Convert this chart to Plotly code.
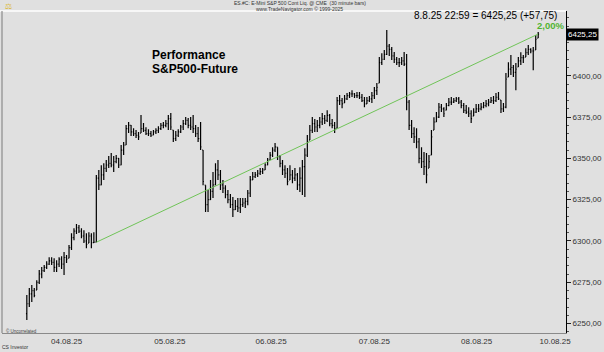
import plotly.graph_objects as go

# ---------------- data (30-minute bars, ES.#C) ----------------
high = [
    6267.3, 6271.5, 6273.3, 6271.5, 6276.3, 6282.4, 6284.2, 6285.4, 6287.8, 6290.2,
    6290.2, 6289.6, 6288.4, 6290.2, 6290.8, 6293.3, 6291.5, 6297.5, 6304.7, 6307.7,
    6310.2, 6309.6, 6307.7, 6306.5, 6304.7, 6305.3, 6304.7, 6305.3, 6339.9, 6342.9,
    6345.9, 6347.1, 6349.0, 6351.4, 6353.2, 6351.4, 6352.0, 6350.2, 6358.1, 6359.9,
    6370.2, 6372.0, 6370.2, 6368.3, 6367.1, 6365.9, 6376.2, 6371.4, 6368.9, 6367.7,
    6366.5, 6367.1, 6368.3, 6369.5, 6371.4, 6372.0, 6373.2, 6376.2, 6377.4, 6367.1,
    6366.5, 6367.7, 6370.2, 6373.2, 6375.0, 6374.4, 6375.0, 6376.2, 6370.2, 6369.0,
    6372.0, 6355.0, 6333.8, 6330.8, 6336.9, 6341.7, 6347.1, 6349.0, 6342.9, 6336.9,
    6333.8, 6330.8, 6328.4, 6326.6, 6324.8, 6326.0, 6326.0, 6326.0, 6326.0, 6330.8,
    6339.3, 6341.7, 6341.7, 6342.9, 6344.1, 6344.1, 6347.1, 6350.2, 6353.8, 6356.8,
    6359.3, 6356.8, 6352.0, 6349.0, 6345.9, 6344.1, 6345.9, 6342.9, 6344.1, 6341.1,
    6344.7, 6349.0, 6356.2, 6364.1, 6370.2, 6375.0, 6373.8, 6373.2, 6375.0, 6377.4,
    6376.2, 6379.2, 6376.8, 6373.8, 6372.0, 6387.1, 6388.3, 6386.5, 6388.3, 6389.5,
    6390.1, 6391.3, 6389.5, 6390.1, 6390.1, 6388.9, 6387.1, 6387.1, 6387.7, 6390.1,
    6393.2, 6395.6, 6411.3, 6413.7, 6415.6, 6427.7, 6419.2, 6417.4, 6414.4, 6411.3,
    6410.7, 6411.3, 6414.4, 6413.1, 6385.3, 6373.2, 6368.9, 6368.3, 6362.3, 6356.8,
    6353.8, 6353.2, 6352.0, 6367.1, 6374.9, 6378.0, 6383.5, 6382.9, 6381.0, 6383.5,
    6386.5, 6387.1, 6386.5, 6387.1, 6387.1, 6385.3, 6383.5, 6382.3, 6381.0, 6379.2,
    6380.4, 6382.9, 6382.9, 6383.5, 6384.1, 6385.3, 6385.9, 6387.1, 6387.7, 6389.5,
    6390.1, 6385.3, 6383.5, 6401.6, 6408.2, 6412.5, 6406.5, 6407.7, 6411.3, 6414.3,
    6412.5, 6416.7, 6418.6, 6416.7, 6417.4, 6424.6, 6426.5,
]
low = [
    6252.1, 6260.0, 6263.0, 6266.0, 6270.3, 6273.9, 6277.5, 6281.2, 6283.0, 6285.4,
    6285.4, 6281.2, 6281.2, 6284.2, 6283.0, 6279.4, 6286.6, 6289.6, 6294.5, 6300.5,
    6304.2, 6304.8, 6301.7, 6298.7, 6295.6, 6298.7, 6295.6, 6298.7, 6299.25, 6330.8,
    6333.8, 6336.9, 6341.7, 6344.1, 6344.7, 6341.7, 6347.1, 6344.1, 6345.9, 6352.0,
    6358.1, 6365.3, 6363.5, 6363.5, 6362.3, 6361.1, 6365.3, 6366.0, 6364.1, 6363.5,
    6362.9, 6364.1, 6364.7, 6365.3, 6367.1, 6368.3, 6368.9, 6367.1, 6367.1, 6359.9,
    6360.5, 6362.9, 6365.3, 6367.1, 6370.2, 6368.3, 6367.1, 6365.3, 6362.9, 6359.9,
    6355.0, 6333.8, 6317.5, 6317.5, 6324.8, 6326.0, 6333.8, 6336.9, 6330.8, 6329.0,
    6325.9, 6322.9, 6319.9, 6314.5, 6318.7, 6317.5, 6316.9, 6320.5, 6319.9, 6321.7,
    6326.6, 6336.9, 6338.1, 6338.7, 6339.9, 6340.5, 6342.9, 6345.9, 6349.0, 6350.8,
    6353.8, 6349.0, 6344.7, 6339.9, 6338.1, 6333.8, 6336.9, 6335.0, 6336.3, 6330.8,
    6329.6, 6327.8, 6326.6, 6350.8, 6361.1, 6365.3, 6365.9, 6365.9, 6368.3, 6370.2,
    6370.8, 6372.0, 6369.5, 6368.3, 6365.3, 6368.3, 6382.3, 6380.4, 6383.5, 6385.3,
    6386.5, 6387.1, 6386.5, 6386.5, 6385.9, 6384.1, 6381.0, 6382.9, 6384.1, 6383.5,
    6385.9, 6388.3, 6395.6, 6406.5, 6409.5, 6412.5, 6411.9, 6409.5, 6407.7, 6406.5,
    6405.3, 6406.5, 6405.9, 6379.2, 6367.1, 6362.3, 6359.3, 6356.2, 6347.1, 6344.1,
    6339.9, 6335.0, 6344.1, 6352.0, 6367.1, 6372.0, 6374.4, 6378.0, 6375.0, 6379.2,
    6381.6, 6382.3, 6383.5, 6384.1, 6382.9, 6380.4, 6377.4, 6376.8, 6375.0, 6371.4,
    6375.6, 6377.4, 6378.0, 6379.2, 6380.4, 6381.0, 6381.6, 6383.5, 6382.9, 6384.1,
    6385.3, 6377.4, 6378.0, 6380.4, 6399.2, 6400.4, 6399.2, 6391.3, 6405.3, 6406.5,
    6407.7, 6411.3, 6412.5, 6413.7, 6403.4, 6415.6, 6422.8,
]
close = [
    6262, 6268, 6270, 6267, 6275, 6280, 6282, 6284, 6286, 6288,
    6287, 6284, 6286, 6289, 6286, 6290, 6289, 6296, 6302, 6306,
    6308, 6306, 6303, 6300, 6298, 6303, 6299, 6299.25, 6338, 6334,
    6340, 6344, 6346, 6347, 6346, 6348, 6350, 6346, 6355, 6358,
    6368, 6370, 6366, 6365, 6364, 6363, 6368, 6367, 6365, 6365,
    6364, 6366, 6367, 6368, 6370, 6370, 6371, 6374, 6369, 6362,
    6364, 6366, 6369, 6371, 6373, 6370, 6369, 6368, 6365, 6362,
    6357, 6336, 6322, 6325, 6330, 6334, 6343, 6340, 6334, 6332,
    6328, 6325, 6322, 6319, 6321, 6320, 6322, 6323, 6324, 6329,
    6337, 6339, 6340, 6341, 6342, 6343, 6346, 6349, 6352, 6355,
    6357, 6351, 6347, 6343, 6341, 6336, 6340, 6338, 6340, 6334,
    6338, 6345, 6352, 6360, 6367, 6371, 6369, 6370, 6372, 6374,
    6373, 6376, 6371, 6370, 6368, 6385, 6385, 6383, 6386, 6388,
    6389, 6389, 6388, 6388, 6387, 6385, 6383, 6385, 6386, 6388,
    6391, 6393, 6408, 6410, 6413, 6418, 6416, 6412, 6410, 6408,
    6408, 6409, 6407, 6384, 6370, 6365, 6363, 6360, 6350, 6348,
    6345, 6340, 6348, 6363, 6372, 6375, 6381, 6380, 6377, 6382,
    6384, 6384, 6385, 6386, 6384, 6382, 6379, 6378, 6377, 6374,
    6378, 6380, 6380, 6381, 6382, 6383, 6384, 6385, 6385, 6387,
    6386, 6380, 6381, 6398, 6404, 6405, 6402, 6404, 6409, 6411,
    6411, 6414, 6416, 6415, 6415, 6422, 6425.25,
]
first_open = 6256.0
perf_start_bar = 28          # bar where the performance line starts
perf_base_bar = 27           # close used as performance base
prev_day_change = 57.75
last_stamp = "8.8.25 22:59"

day_labels = ["04.08.25", "05.08.25", "06.08.25", "07.08.25", "08.08.25", "10.08.25"]
day_label_bars = [16.0, 57.6, 98.4, 140.0, 181.2, 212.8]

y_ticks = [6250, 6275, 6300, 6325, 6350, 6375, 6400]

# ---------------- derived ----------------
n = len(close)
bars = list(range(n))
opens = [first_open] + close[:-1]
opens = [min(max(o, l), h) for o, h, l in zip(opens, high, low)]


def de(v, d=2):
    return f"{v:.{d}f}".replace(".", ",")


last = close[-1]
base = close[perf_base_bar]
perf = (last / base - 1) * 100

BG = "rgb(224,224,224)"
FONT = "Liberation Sans, Arial, sans-serif"

fig = go.Figure()
fig.add_trace(go.Ohlc(
    x=bars, open=opens, high=high, low=low, close=close,
    increasing=dict(line=dict(color="black", width=1.2)),
    decreasing=dict(line=dict(color="black", width=1.2)),
    tickwidth=0.35, hoverinfo="skip", showlegend=False,
))
fig.add_trace(go.Scatter(
    x=[perf_start_bar, bars[-1]], y=[base, last], mode="lines",
    line=dict(color="rgb(112,196,88)", width=1), hoverinfo="skip", showlegend=False,
))

fig.update_layout(
    width=604, height=352,
    margin=dict(l=2, r=34, t=11, b=19),
    paper_bgcolor=BG, plot_bgcolor=BG,
    font=dict(family=FONT, color="#222"),
    showlegend=False,
    xaxis=dict(
        range=[-10, 217.2], rangeslider=dict(visible=False),
        tickvals=day_label_bars, ticktext=day_labels,
        tickfont=dict(size=8, color="#333"), ticks="",
        showgrid=False, zeroline=False,
        showline=True, linecolor="#8a8a8a", linewidth=1,
    ),
    yaxis=dict(
        side="right", range=[6244.3, 6439.2],
        tickvals=y_ticks, ticktext=[de(v) for v in y_ticks],
        tickfont=dict(size=8, color="#333"),
        ticks="outside", ticklen=4, tickcolor="#222",
        minor=dict(dtick=5, ticks="outside", ticklen=2, tickcolor="#555"),
        showgrid=False, zeroline=False,
        showline=True, linecolor="black", linewidth=1,
    ),
)

# borders
fig.add_shape(type="line", xref="paper", yref="paper", x0=-0.004, x1=1, y0=1, y1=1,
              line=dict(color="white", width=1.5))
fig.add_shape(type="line", xref="paper", yref="paper", x0=0, x1=0, y0=0, y1=1,
              line=dict(color="#7a7a7a", width=1))

ann = []
ann.append(dict(xref="paper", yref="paper", x=0.2623, y=0.8634, xanchor="left", yanchor="middle",
                text="<b>Performance</b>", showarrow=False, font=dict(size=12, color="black", family=FONT)))
ann.append(dict(xref="paper", yref="paper", x=0.2623, y=0.8208, xanchor="left", yanchor="middle",
                text="<b>S&P500-Future</b>", showarrow=False, font=dict(size=12, color="black", family=FONT)))
ann.append(dict(xref="paper", yref="paper", x=0.9877, y=0.9845, xanchor="right", yanchor="middle",
                text=f"{last_stamp} = {de(last)} (+{de(prev_day_change)})", showarrow=False,
                font=dict(size=10, color="black", family=FONT)))
ann.append(dict(xref="paper", yref="y", x=1.0, y=last, xanchor="right", yanchor="bottom", yshift=1,
                text=f"<b>{de(perf)}%</b>", showarrow=False,
                font=dict(size=9.5, color="rgb(80,180,50)", family=FONT)))
ann.append(dict(xref="paper", yref="y", x=1.0, y=last, xanchor="left", yanchor="middle",
                text=de(last), showarrow=False, bgcolor="black", borderpad=1,
                font=dict(size=8, color="white", family=FONT)))
ann.append(dict(xref="paper", yref="paper", x=0.528, y=1.0233, xanchor="center", yanchor="middle",
                text="ES.#C: E-Mini S&P 500 Cont Liq. @ CME  (30 minute bars)", showarrow=False,
                font=dict(size=5, color="#333", family=FONT)))
ann.append(dict(xref="paper", yref="paper", x=0.528, y=1.0047, xanchor="center", yanchor="middle",
                text="www.TradeNavigator.com © 1999-2025", showarrow=False,
                font=dict(size=5, color="#333", family=FONT)))
ann.append(dict(xref="paper", yref="paper", x=-0.003, y=-0.0435, xanchor="left", yanchor="middle",
                text="CS Investor", showarrow=False, font=dict(size=5, color="#333", family=FONT)))
ann.append(dict(xref="paper", yref="paper", x=0.004, y=0.006, xanchor="left", yanchor="middle",
                text="© Uncorrelated", showarrow=False, font=dict(size=4.5, color="#444", family=FONT)))
ann.append(dict(xref="paper", yref="paper", x=0.002, y=1.0155, xanchor="left", yanchor="middle",
                text="⚖", showarrow=False, font=dict(size=8, color="rgb(220,180,30)", family="DejaVu Sans")))
fig.update_layout(annotations=ann)

fig.write_html("out.html")
